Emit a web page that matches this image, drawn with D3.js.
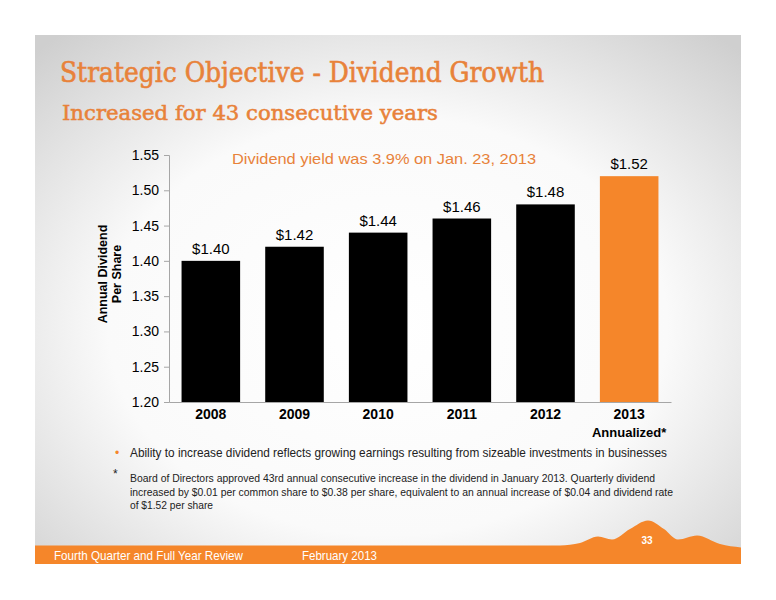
<!DOCTYPE html>
<html>
<head>
<meta charset="utf-8">
<script src="https://cdn.jsdelivr.net/npm/d3@7"></script>
<style>
  html, body { margin: 0; padding: 0; background: #fff; }
  svg { display: block; }
</style>
</head>
<body>
<div id="chart"></div>
<script>
// Chart data
const years = ["2008", "2009", "2010", "2011", "2012", "2013"];
const dividends = [1.40, 1.42, 1.44, 1.46, 1.48, 1.52];
const valueLabels = ["$1.40", "$1.42", "$1.44", "$1.46", "$1.48", "$1.52"];
const annualized = [false, false, false, false, false, true];
const yTicks = [1.20, 1.25, 1.30, 1.35, 1.40, 1.45, 1.50, 1.55];
const footnoteLines = [
  "Board of Directors approved 43rd annual consecutive increase in the dividend in January 2013. Quarterly dividend",
  "increased by $0.01 per common share to $0.38 per share, equivalent to an annual increase of $0.04 and dividend rate",
  "of $1.52 per share"
];

const W = 776, H = 600;
const orange = "#f5862a";
const titleOrange = "#e8823a";

const svg = d3.select("#chart").append("svg")
  .attr("width", W)
  .attr("height", H);

// Slide background with soft radial shading
const defs = svg.append("defs");
const grad = defs.append("radialGradient")
  .attr("id", "bg")
  .attr("cx", "50%").attr("cy", "55%").attr("r", "72%");
grad.append("stop").attr("offset", "0%").attr("stop-color", "#ffffff");
grad.append("stop").attr("offset", "55%").attr("stop-color", "#fafafa");
grad.append("stop").attr("offset", "100%").attr("stop-color", "#cfcfcf");

const slide = { x0: 35, y0: 35, x1: 741, y1: 564 };
svg.append("rect")
  .attr("x", slide.x0).attr("y", slide.y0)
  .attr("width", slide.x1 - slide.x0).attr("height", slide.y1 - slide.y0)
  .attr("fill", "url(#bg)");

// Titles
const serif = "'DejaVu Serif Condensed', 'DejaVu Serif', serif";
svg.append("text")
  .attr("x", 60).attr("y", 82)
  .attr("font-family", serif)
  .attr("font-size", 28)
  .attr("fill", titleOrange)
  .attr("stroke", titleOrange).attr("stroke-width", 0.6)
  .attr("textLength", 484).attr("lengthAdjust", "spacingAndGlyphs")
  .text("Strategic Objective - Dividend Growth");

svg.append("text")
  .attr("x", 62).attr("y", 120)
  .attr("font-family", serif)
  .attr("font-size", 21)
  .attr("fill", titleOrange)
  .attr("stroke", titleOrange).attr("stroke-width", 0.5)
  .attr("textLength", 376).attr("lengthAdjust", "spacingAndGlyphs")
  .text("Increased for 43 consecutive years");

// Scales
const x = d3.scaleBand()
  .domain(years)
  .range([169, 671])
  .paddingInner(0.3)
  .paddingOuter(0.15);

const y = d3.scaleLinear()
  .domain([1.20, 1.55])
  .range([402, 155]);

const font = "'Liberation Sans', Arial, sans-serif";

// Y axis
const yAxis = svg.append("g")
  .attr("transform", `translate(169,0)`)
  .call(d3.axisLeft(y).tickValues(yTicks).tickFormat(d3.format(".2f")).tickSize(5).tickPadding(5));
yAxis.select(".domain").attr("stroke", "#a6a6a6");
yAxis.selectAll(".tick line").attr("stroke", "#a6a6a6");
yAxis.selectAll(".tick text")
  .attr("font-family", font)
  .attr("font-size", 14)
  .attr("fill", "#000");

// X axis (baseline only)
const xAxis = svg.append("g")
  .attr("transform", `translate(0,${y(1.20)})`)
  .call(d3.axisBottom(x).tickSize(0).tickPadding(7));
xAxis.select(".domain").attr("stroke", "#a6a6a6");
xAxis.selectAll(".tick text")
  .attr("font-family", font)
  .attr("font-size", 14)
  .attr("font-weight", "bold")
  .attr("fill", "#000");

// "Annualized*" under the 2013 label
years.forEach((yr, i) => {
  if (annualized[i]) {
    svg.append("text")
      .attr("x", x(yr) + x.bandwidth() / 2)
      .attr("y", 437)
      .attr("text-anchor", "middle")
      .attr("font-family", font)
      .attr("font-size", 13)
      .attr("font-weight", "bold")
      .text("Annualized*");
  }
});

// Bars
svg.append("g").selectAll("rect")
  .data(years)
  .join("rect")
  .attr("x", d => x(d))
  .attr("y", (d, i) => y(dividends[i]))
  .attr("width", x.bandwidth())
  .attr("height", (d, i) => y(1.20) - y(dividends[i]))
  .attr("fill", (d, i) => annualized[i] ? orange : "#000");

// Value labels
svg.append("g").selectAll("text")
  .data(years)
  .join("text")
  .attr("x", d => x(d) + x.bandwidth() / 2)
  .attr("y", (d, i) => y(dividends[i]) - 7)
  .attr("text-anchor", "middle")
  .attr("font-family", font)
  .attr("font-size", 15)
  .attr("fill", "#000")
  .text((d, i) => valueLabels[i]);

// Y axis title
const yTitle = svg.append("text")
  .attr("transform", "translate(109,274) rotate(-90)")
  .attr("text-anchor", "middle")
  .attr("font-family", font)
  .attr("font-size", 12.5)
  .attr("font-weight", "bold");
yTitle.append("tspan").attr("x", 0).attr("dy", "-0.15em").text("Annual Dividend");
yTitle.append("tspan").attr("x", 0).attr("dy", "1.1em").text("Per Share");

// Yield annotation
svg.append("text")
  .attr("x", 384).attr("y", 164)
  .attr("text-anchor", "middle")
  .attr("font-family", font)
  .attr("font-size", 15)
  .attr("fill", titleOrange)
  .attr("textLength", 304).attr("lengthAdjust", "spacingAndGlyphs")
  .text("Dividend yield was 3.9% on Jan. 23, 2013");

// Bullet
svg.append("text")
  .attr("x", 115).attr("y", 457)
  .attr("font-family", font)
  .attr("font-size", 12)
  .attr("fill", orange)
  .text("•");
svg.append("text")
  .attr("x", 130).attr("y", 457)
  .attr("font-family", font)
  .attr("font-size", 13)
  .attr("fill", "#222")
  .attr("textLength", 537).attr("lengthAdjust", "spacingAndGlyphs")
  .text("Ability to increase dividend reflects growing earnings resulting from sizeable investments in businesses");

// Footnote
svg.append("text")
  .attr("x", 113).attr("y", 478)
  .attr("font-family", font)
  .attr("font-size", 12)
  .attr("fill", "#222")
  .text("*");
const footLengths = [525, 543, 83];
footnoteLines.forEach((line, i) => {
  svg.append("text")
    .attr("x", 130).attr("y", 482 + i * 13.5)
    .attr("font-family", "'Liberation Sans Narrow', 'Liberation Sans', Arial, sans-serif")
    .attr("font-size", 11)
    .attr("fill", "#222")
    .attr("textLength", footLengths[i]).attr("lengthAdjust", "spacingAndGlyphs")
    .text(line);
});

// Footer band with mountain silhouette
const ridge = [
  [35, 545.5], [560, 545.5], [580, 543], [598, 536.5], [612, 539.5],
  [630, 529], [648, 520.5], [664, 529], [678, 539.5], [697, 535.5],
  [720, 544], [741, 547.5]
];
const band = d3.area()
  .x(d => d[0])
  .y0(564)
  .y1(d => d[1])
  .curve(d3.curveMonotoneX);
svg.append("path")
  .attr("d", band(ridge))
  .attr("fill", orange);

svg.append("text")
  .attr("x", 647).attr("y", 544)
  .attr("text-anchor", "middle")
  .attr("font-family", font)
  .attr("font-size", 10)
  .attr("font-weight", "bold")
  .attr("fill", "#fff")
  .text("33");

svg.append("text")
  .attr("x", 54).attr("y", 560)
  .attr("font-family", font)
  .attr("font-size", 13)
  .attr("fill", "#fff")
  .attr("textLength", 189).attr("lengthAdjust", "spacingAndGlyphs")
  .text("Fourth Quarter and Full Year Review");

svg.append("text")
  .attr("x", 302).attr("y", 560)
  .attr("font-family", font)
  .attr("font-size", 13)
  .attr("fill", "#fff")
  .attr("textLength", 75).attr("lengthAdjust", "spacingAndGlyphs")
  .text("February 2013");
</script>
</body>
</html>
